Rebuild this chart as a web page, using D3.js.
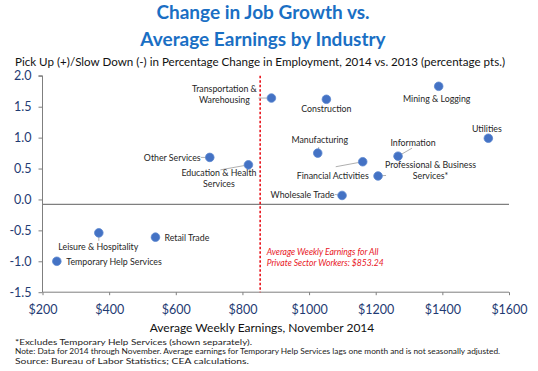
<!DOCTYPE html>
<html><head><meta charset="utf-8">
<script src="https://cdn.jsdelivr.net/npm/d3@7"></script>
<style>
html,body{margin:0;padding:0;background:#fff;}
svg{display:block;font-family:Lato,"Open Sans",sans-serif;}
</style></head>
<body>
<svg id="chart" width="538" height="371"></svg>
<script>
// ---- data ----
const industries = ["Transportation & Warehousing","Construction","Mining & Logging","Utilities","Manufacturing","Information","Financial Activities","Professional & Business Services*","Wholesale Trade","Other Services","Education & Health Services","Leisure & Hospitality","Retail Trade","Temporary Help Services"];
const earnings = [887, 1052, 1389, 1538, 1026, 1267, 1161, 1207, 1099, 702, 818, 369, 539, 243];
const jobChange = [1.64, 1.62, 1.83, 0.99, 0.75, 0.70, 0.61, 0.38, 0.065, 0.68, 0.56, -0.54, -0.61, -1.0];
const xTicks = [200, 400, 600, 800, 1000, 1200, 1400, 1600];
const yTicks = [-1.5, -1.0, -0.5, 0.0, 0.5, 1.0, 1.5, 2.0];
const avgEarnings = 853.24;
const axisCross = -0.08;
const titleLines = ["Change in Job Growth vs.", "Average Earnings by Industry"];
const yTitle = "Pick Up (+)/Slow Down (-) in Percentage Change in Employment, 2014 vs. 2013 (percentage pts.)";
const xTitle = "Average Weekly Earnings, November 2014";
const refLines = ["Average Weekly Earnings for All", "Private Sector Workers: $853.24"];
const notes = ["*Excludes Temporary Help Services (shown separately).",
  "Note: Data for 2014 through November.  Average earnings for Temporary Help Services lags one month  and is not seasonally adjusted.",
  "Source: Bureau of Labor Statistics; CEA calculations."];
const noteWidths = [237, 485, 234];

// ---- label layout (pixel offsets from the dot) ----
const labelLayout = {
  "Transportation & Warehousing": {lines:["Transportation &","Warehousing"], dx:-47, dy:-4, anchor:"middle", lead:[-13,0]},
  "Construction": {lines:["Construction"], dx:0, dy:10, anchor:"middle"},
  "Mining & Logging": {lines:["Mining & Logging"], dx:-2, dy:12.6, anchor:"middle"},
  "Utilities": {lines:["Utilities"], dx:-1.5, dy:-9.6, anchor:"middle"},
  "Manufacturing": {lines:["Manufacturing"], dx:2, dy:-13.4, anchor:"middle", lead:[1,-6]},
  "Information": {lines:["Information"], dx:15, dy:-13, anchor:"middle", lead:[14,-8]},
  "Financial Activities": {lines:["Financial Activities"], dx:-30, dy:13.6, anchor:"middle", lead:[-27,5]},
  "Professional & Business Services*": {lines:["Professional & Business","Services*"], dx:52.5, dy:-5.7, anchor:"middle", lead:[8,-0.5]},
  "Wholesale Trade": {lines:["Wholesale Trade"], dx:-39.5, dy:-1, anchor:"middle", lead:[-7,-1]},
  "Other Services": {lines:["Other Services"], dx:-37.5, dy:0.3, anchor:"middle", lead:[-9,0]},
  "Education & Health Services": {lines:["Education & Health","Services"], dx:-29.5, dy:13.4, anchor:"middle", lead:[-28,5]},
  "Leisure & Hospitality": {lines:["Leisure & Hospitality"], dx:-0.5, dy:14, anchor:"middle", lead:[0,8]},
  "Retail Trade": {lines:["Retail Trade"], dx:9, dy:0.3, anchor:"start"},
  "Temporary Help Services": {lines:["Temporary Help Services"], dx:9.5, dy:0.7, anchor:"start"}
};

const svg = d3.select("#chart");
const x = d3.scaleLinear().domain([200, 1600]).range([42.5, 509]);
const y = d3.scaleLinear().domain([-1.5, 2]).range([292.2, 75.8]);
const axisColor = "#7f7f7f";
const tickColor = "#1f3b73";

// title
svg.append("g").selectAll("text").data(titleLines).join("text")
  .attr("x", 263).attr("y", (d,i) => 18.5 + i*27)
  .attr("text-anchor","middle").attr("font-size", 19).attr("font-weight","bold")
  .attr("fill","#1a6fc4").text(d => d);

svg.append("text").attr("x", 15).attr("y", 65.5).attr("font-size", 11)
  .attr("fill","#111").attr("textLength", 490).attr("lengthAdjust","spacingAndGlyphs").text(yTitle);

// axes
const yAxis = svg.append("g").attr("transform", `translate(${x(200)},0)`)
  .call(d3.axisLeft(y).tickValues(yTicks).tickSize(4).tickPadding(7)
    .tickFormat(d => d3.format(".1f")(d).replace("\u2212","-")));
yAxis.select(".domain").attr("stroke", axisColor).attr("d", `M-4,${y(2)}H0V${y(-1.5)}`);
yAxis.selectAll(".tick line").attr("stroke", axisColor);
yAxis.selectAll(".tick text").attr("fill", tickColor).attr("font-size", 12.5).attr("font-family","Lato,sans-serif");

const xAxis = svg.append("g").attr("transform", `translate(0,${y(-1.5)})`)
  .call(d3.axisBottom(x).tickValues(xTicks).tickSize(3).tickPadding(10)
    .tickFormat(d => "$" + d));
xAxis.select(".domain").attr("stroke", axisColor).attr("d", `M${x(200)},0H${x(1600)}`);
xAxis.selectAll(".tick line").attr("stroke", axisColor);
xAxis.selectAll(".tick text").attr("fill", tickColor).attr("font-size", 12.5).attr("font-family","Lato,sans-serif");

// horizontal crossing line
svg.append("line").attr("x1", x(200)).attr("x2", x(1600))
  .attr("y1", y(axisCross)).attr("y2", y(axisCross))
  .attr("stroke", axisColor).attr("stroke-width", 1.3);

// reference line
svg.append("line").attr("x1", x(avgEarnings)).attr("x2", x(avgEarnings))
  .attr("y1", y(2)).attr("y2", y(-1.5))
  .attr("stroke", "#e8141c").attr("stroke-width", 1.6).attr("stroke-dasharray","2.5,2");
svg.append("g").selectAll("text").data(refLines).join("text")
  .attr("x", x(avgEarnings) + 6.5).attr("y", (d,i) => 255 + i*11.3)
  .attr("font-size", 8.6).attr("font-style","italic").attr("fill","#e8141c").text(d => d);

// points
const pts = industries.map((name,i) => ({name, e: earnings[i], v: jobChange[i]}));

const lab = svg.append("g");
pts.forEach(p => {
  const L = labelLayout[p.name];
  const cx = x(p.e), cy = y(p.v);
  if (L.lead) {
    lab.append("line").attr("x1", cx + L.lead[0]).attr("y1", cy + L.lead[1])
      .attr("x2", cx).attr("y2", cy).attr("stroke","#a6a6a6").attr("stroke-width",0.9);
  }
  const n = L.lines.length;
  L.lines.forEach((t, j) => {
    lab.append("text").attr("x", cx + L.dx)
      .attr("y", cy + L.dy + (j - (n-1)/2) * 11 + 3.2)
      .attr("text-anchor", L.anchor).attr("font-size", 8.8).attr("fill","#262626").text(t);
  });
});

svg.append("g").selectAll("circle").data(pts).join("circle")
  .attr("cx", d => x(d.e)).attr("cy", d => y(d.v)).attr("r", 4.3)
  .attr("fill","#4472c4").attr("stroke","#5b86cf").attr("stroke-width",0.8);

// x title
svg.append("text").attr("x", 262).attr("y", 332).attr("text-anchor","middle")
  .attr("font-size", 12).attr("fill","#111").text(xTitle);

svg.append("g").selectAll("text").data(notes).join("text")
  .attr("x", 15).attr("y", (d,i) => 344.5 + i*9.8)
  .attr("font-size", 8).attr("fill","#222")
  .attr("textLength", (d,i) => noteWidths[i]).attr("lengthAdjust","spacingAndGlyphs")
  .text(d => d);
</script>
</body></html>
